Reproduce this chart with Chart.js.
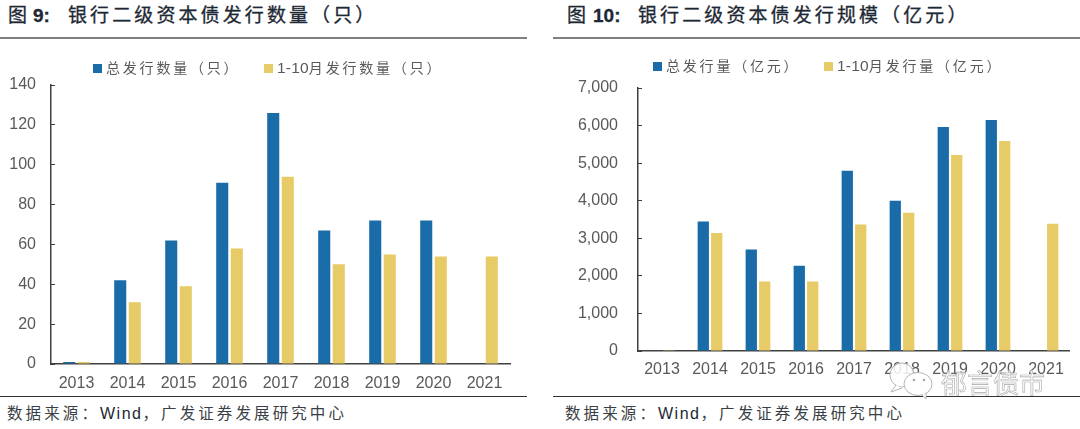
<!DOCTYPE html>
<html>
<head>
<meta charset="utf-8">
<script src="https://cdn.jsdelivr.net/npm/chart.js@4/dist/chart.umd.min.js"></script>
<style>
body { margin:0; background:#fff; width:1080px; height:429px; overflow:hidden; position:relative;
  font-family:"Liberation Sans","Noto Sans CJK SC",sans-serif; }
.abs { position:absolute; white-space:nowrap; }
canvas { position:absolute; }
.title { font-size:19px; line-height:24px; letter-spacing:3.1px; color:#1c2833; -webkit-text-stroke:0.3px #1c2833; }
.title b { letter-spacing:0; }
.source { font-size:15.5px; line-height:20px; letter-spacing:3.1px; color:#3a3f45; }
.source i { font-style:normal; font-size:16px; letter-spacing:1.5px; color:#1c2833; }
.rule1 { height:2px; background:#7f7f7f; }
.rule2 { height:1px; background:#333; }
.legend { font-size:14px; line-height:18px; letter-spacing:2.8px; color:#595959; }
.legend i { font-style:normal; letter-spacing:0.2px; font-size:15.5px; }
.sw { position:absolute; width:9px; height:9px; }
.wm { font-size:26px; line-height:30px; color:rgba(255,255,255,0.8); -webkit-text-stroke:0.6px #a8a8a8; letter-spacing:0; }
</style>
</head>
<body>
<div class="abs title" style="left:8px;top:4px">图</div>
<div class="abs title" style="left:33px;top:4px"><b>9:</b></div>
<div class="abs title" style="left:68px;top:4px">银行二级资本债发行数量（只）</div>
<div class="abs title" style="left:567px;top:4px">图</div>
<div class="abs title" style="left:593px;top:4px"><b>10:</b></div>
<div class="abs title" style="left:638px;top:4px">银行二级资本债发行规模（亿元）</div>
<div class="abs rule1" style="left:0;top:37px;width:527px"></div>
<div class="abs rule1" style="left:553px;top:37px;width:527px"></div>

<canvas id="countChart" style="left:0;top:51px"></canvas>
<canvas id="amountChart" style="left:540px;top:51px"></canvas>

<div id="countLegend"></div>
<div id="amountLegend"></div>

<div class="abs rule2" style="left:0;top:396px;width:527px"></div>
<div class="abs rule2" style="left:553px;top:396px;width:527px"></div>
<div class="abs source" style="left:7px;top:404px">数据来源：<i>Wind</i>，广发证券发展研究中心</div>
<div class="abs source" style="left:565px;top:404px">数据来源：<i>Wind</i>，广发证券发展研究中心</div>

<!-- watermark -->
<svg class="abs" style="left:888px;top:360px" width="50" height="42" viewBox="0 0 50 42">
  <ellipse cx="14" cy="15" rx="12" ry="12" fill="rgba(255,255,255,0.85)" stroke="#b4b4b4" stroke-width="1"/>
  <path d="M8 25 L3 32 L14 28" fill="#fff" stroke="#b4b4b4" stroke-width="1"/>
  <ellipse cx="30" cy="24" rx="14" ry="11.5" fill="#fff" stroke="#b4b4b4" stroke-width="1"/>
  <path d="M34 35 L38 39 L38 33" fill="#fff" stroke="#b4b4b4" stroke-width="1"/>
  <circle cx="26" cy="20" r="1.3" fill="#a8a8a8"/><circle cx="36" cy="20" r="1.3" fill="#a8a8a8"/>
</svg>
<div class="abs wm" style="left:941px;top:369px">郁言债市</div>

<script>
var years = ["2013","2014","2015","2016","2017","2018","2019","2020","2021"];

var countTotal = [1,42,62,91,126,67,72,72,null];
var countJanOct = [1,31,39,58,94,50,55,54,54];
var countTotalName = "总发行数量（只）";
var countJanOctName = "1-10月发行数量（只）";

var amountTotal = [10,3450,2700,2270,4800,4000,5960,6150,null];
var amountJanOct = [5,3140,1850,1850,3370,3680,5220,5590,3390];
var amountTotalName = "总发行量（亿元）";
var amountJanOctName = "1-10月发行量（亿元）";

var BLUE = "#1a6ca8";
var YELLOW = "#e6cb66";

//make one bar chart, the plot box is fixed so it lines up with the picture
function makeChart(id, w, h, s) {
	var canvas = document.getElementById(id);
	canvas.style.width = w + "px";
	canvas.style.height = h + "px";
	return new Chart(canvas, {
		type : "bar",
		data : {
			labels : years,
			datasets : [
				{ label : s.name1, data : s.data1, backgroundColor : BLUE, categoryPercentage : s.cat, barPercentage : s.bar },
				{ label : s.name2, data : s.data2, backgroundColor : YELLOW, categoryPercentage : s.cat, barPercentage : s.bar }
			]
		},
		options : {
			responsive : false,
			animation : false,
			devicePixelRatio : 1,
			layout : { autoPadding : false, padding : { top : s.top, right : s.right, left : 0, bottom : 0 } },
			plugins : { legend : { display : false }, tooltip : { enabled : false } },
			scales : {
				x : {
					grid : { display : false },
					border : { color : "#404040", width : 1.5 },
					ticks : { color : "#595959", font : { size : 16, family : "Liberation Sans" }, padding : s.xpad, maxRotation : 0, autoSkip : false },
					afterFit : function (a) { a.height = s.xh; }
				},
				y : {
					min : 0,
					max : s.max,
					grid : { drawOnChartArea : false, drawTicks : true, tickLength : -4, tickColor : "#404040", tickWidth : 1 },
					border : { color : "#404040", width : 1.5 },
					ticks : {
						stepSize : s.step,
						color : "#595959",
						font : { size : 16, family : "Liberation Sans" },
						padding : s.pad,
						callback : function (v) { return v.toLocaleString("en-US"); }
					},
					afterFit : function (a) { a.width = s.yw; }
				}
			}
		}
	});
}

//legend as html so the wide chinese spacing can be kept
function wrapLatin(t) { return t.replace(/[0-9\-]+/g, "<i>$&</i>"); }
function makeLegend(id, chart, items) {
	var html = "";
	chart.data.datasets.forEach(function (d, i) {
		var it = items[i];
		html += '<div class="sw" style="left:' + it.x + 'px;top:' + it.y + 'px;background:' + d.backgroundColor + '"></div>';
		html += '<div class="abs legend" style="left:' + (it.x + 13) + 'px;top:' + (it.y - 5) + 'px">' + wrapLatin(d.label) + '</div>';
	});
	document.getElementById(id).innerHTML = html;
}

var c1 = makeChart("countChart", 527, 345, {
	name1 : countTotalName, data1 : countTotal, name2 : countJanOctName, data2 : countJanOct,
	cat : 0.57, bar : 0.83, top : 34, right : 17, xh : 32, yw : 51, max : 140, step : 20, pad : 19, xpad : 2
});
var c2 = makeChart("amountChart", 530, 345, {
	name1 : amountTotalName, data1 : amountTotal, name2 : amountJanOctName, data2 : amountJanOct,
	cat : 0.56, bar : 0.84, top : 37, right : 0, xh : 45, yw : 98, max : 7000, step : 1000, pad : 24, xpad : 1
});

makeLegend("countLegend", c1, [{ x : 93, y : 64 }, { x : 264, y : 64 }]);
makeLegend("amountLegend", c2, [{ x : 653, y : 62 }, { x : 824, y : 62 }]);
</script>
</body>
</html>
